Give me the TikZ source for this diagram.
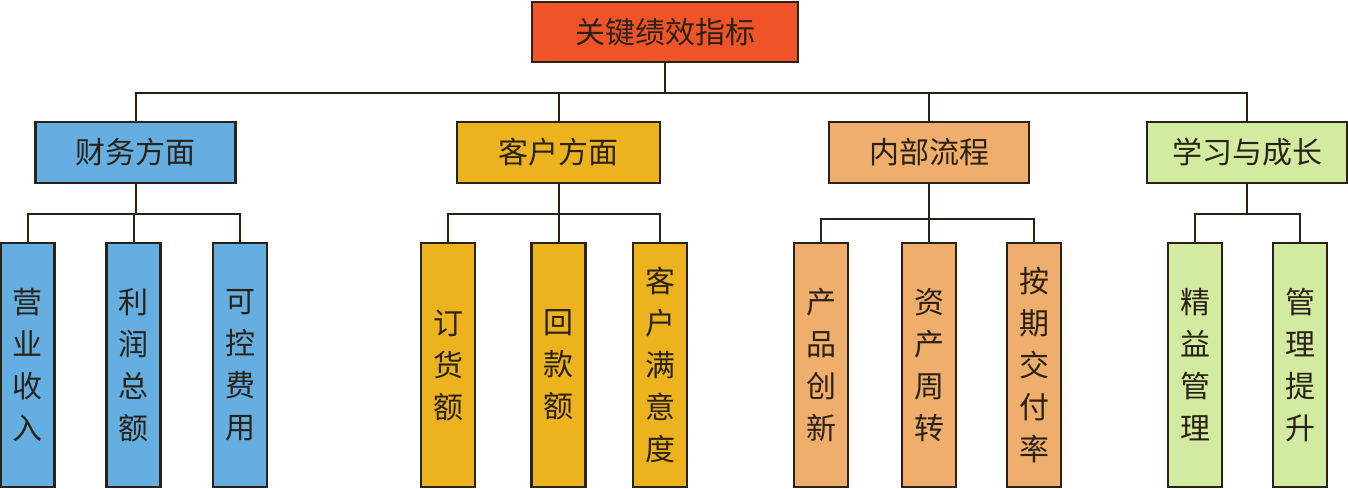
\documentclass[tikz,border=0pt]{standalone}
\usepackage{fontspec}
\newfontfamily\cjk{Noto Sans CJK SC}
\definecolor{rootred}{HTML}{EE5428}
\definecolor{finblue}{HTML}{64AEE2}
\definecolor{custgold}{HTML}{ECB31E}
\definecolor{procorange}{HTML}{F0AE6C}
\definecolor{learngreen}{HTML}{D3EBA0}
\definecolor{ink}{HTML}{2A2216}
\tikzset{
	box/.style={draw=ink, line width=2.4pt, text=ink, inner sep=0pt,
		font=\cjk\fontsize{30}{42}\selectfont},
	head/.style={box, minimum width=200pt, minimum height=61pt},
	leaf/.style={box, minimum width=54pt, minimum height=244pt, align=center},
	wire/.style={draw=ink, line width=2pt}
}
\begin{document}
\begin{tikzpicture}[x=1pt,y=-1pt]
\useasboundingbox (0,0) rectangle (1348,488);

\node[box, fill=rootred, minimum width=266pt, minimum height=60pt] (kpi) at (665,32) {关键绩效指标};

% second level
\node[head, fill=finblue]    (fin)   at (135.5,152.5) {财务方面};
\node[head, fill=custgold, minimum width=203pt] (cust) at (558.5,152.5) {客户方面};
\node[head, fill=procorange] (proc)  at (929,152.5) {内部流程};
\node[head, fill=learngreen] (learn) at (1247,152.5) {学习与成长};

% leaves
\node[leaf, fill=finblue]    (fin1)  at (27.5,365)  {营\\业\\收\\入};
\node[leaf, fill=finblue]    (fin2)  at (133.5,365) {利\\润\\总\\额};
\node[leaf, fill=finblue]    (fin3)  at (240,365)   {可\\控\\费\\用};
\node[leaf, fill=custgold]   (cust1) at (448,365)   {订\\货\\额};
\node[leaf, fill=custgold]   (cust2) at (558.5,365) {回\\款\\额};
\node[leaf, fill=custgold]   (cust3) at (660,365)   {客\\户\\满\\意\\度};
\node[leaf, fill=procorange] (proc1) at (821,365)   {产\\品\\创\\新};
\node[leaf, fill=procorange] (proc2) at (929,365)   {资\\产\\周\\转};
\node[leaf, fill=procorange] (proc3) at (1034,365)  {按\\期\\交\\付\\率};
\node[leaf, fill=learngreen] (learn1) at (1195,365) {精\\益\\管\\理};
\node[leaf, fill=learngreen] (learn2) at (1300,365) {管\\理\\提\\升};

% connectors
\foreach \c in {fin,cust,proc,learn}
	\draw[wire] (kpi.south) -- ++(0,30) -| (\c.north);
\foreach \c in {fin1,fin2,fin3}
	\draw[wire] (fin.south) -- ++(0,30) -| (\c.north);
\foreach \c in {cust1,cust2,cust3}
	\draw[wire] (cust.south) -- ++(0,30) -| (\c.north);
\foreach \c in {proc1,proc2,proc3}
	\draw[wire] (proc.south) -- ++(0,35) -| (\c.north);
\foreach \c in {learn1,learn2}
	\draw[wire] (learn.south) -- ++(0,30) -| (\c.north);
\end{tikzpicture}
\end{document}
